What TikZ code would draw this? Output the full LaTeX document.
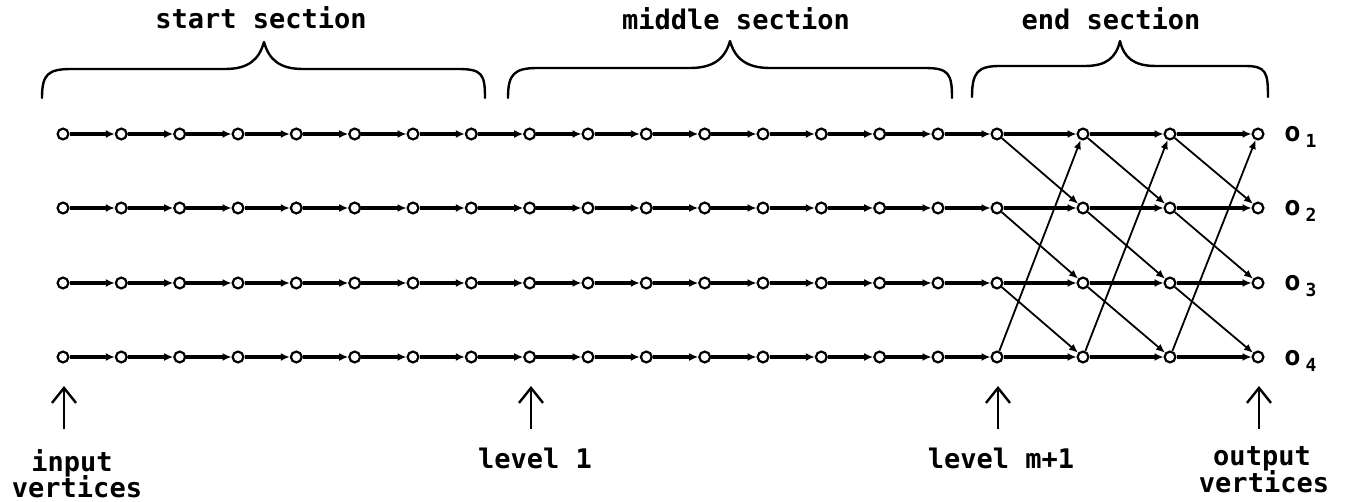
\documentclass[tikz,border=0pt]{standalone}
\usepackage{fontspec}
\setmonofont{DejaVu Sans Mono}
\usetikzlibrary{arrows.meta}
\begin{document}
\begin{tikzpicture}[x=0.5pt,y=-0.5pt,
  vtx/.style={circle, draw, line width=1.1pt, fill=white, minimum size=5.4pt, inner sep=0pt},
  hedge/.style={line width=1.6pt, -{Latex[length=4.5pt,width=4pt]}},
  dedge/.style={line width=0.9pt, -{Latex[length=4.5pt,width=3.8pt]}},
  lbl/.style={font=\ttfamily\bfseries\fontsize{13.5}{13.5}\selectfont, inner sep=0pt},
  sublbl/.style={lbl, anchor=base west},
  upar/.style={line width=1.2pt, -{Straight Barb[length=7.5pt,width=12pt]}},
  brc/.style={line width=1.2pt, line cap=round, line join=round}]
\useasboundingbox (0,0) rectangle (1350,502);

% vertices: 16 chain columns, then 4 columns of the end section
\foreach \c/\x in {1/63, 2/121.3, 3/179.7, 4/238, 5/296.3, 6/354.7, 7/413, 8/471.3,
                   9/529.7, 10/588, 11/646.3, 12/704.7, 13/763, 14/821.3, 15/879.7, 16/938,
                   17/997, 18/1083, 19/1170, 20/1258}
  \foreach \r/\y in {1/134, 2/208, 3/283, 4/357}
    \node[vtx] (v\r-\c) at (\x,\y) {};

% horizontal edges along every row
\foreach \r in {1,2,3,4} {
  \foreach \c/\nc in {1/2, 2/3, 3/4, 4/5, 5/6, 6/7, 7/8, 8/9, 9/10, 10/11,
                      11/12, 12/13, 13/14, 14/15, 15/16, 16/17, 17/18, 18/19, 19/20} {
    \draw[hedge] (v\r-\c) -- (v\r-\nc);
  }
}

% end section: shift each row down by one, last row wraps to the top
\foreach \c/\nc in {17/18, 18/19, 19/20} {
  \foreach \r/\nr in {1/2, 2/3, 3/4, 4/1} {
    \draw[dedge] (v\r-\c) -- (v\nr-\nc);
  }
}

% output labels
\foreach \r/\y in {1/142, 2/216, 3/291, 4/365}
  \node[sublbl] (out\r) at (1284,\y) {o\hspace{2.5pt}\raisebox{-3pt}{\fontsize{9}{9}\selectfont\r}};

% section braces
\draw[brc] (42,98) .. controls (42,74) and (48,69) .. (72,69) -- (225,69)
  .. controls (248,69) and (259,60) .. (264,42)
  .. controls (269,60) and (280,69) .. (303,69) -- (458,69)
  .. controls (482,69) and (485,74) .. (485,98);
\draw[brc] (508,98) .. controls (508,74) and (514,68) .. (538,68) -- (690,68)
  .. controls (713,68) and (725,59) .. (730,41)
  .. controls (735,59) and (747,68) .. (770,68) -- (925,68)
  .. controls (949,68) and (952,74) .. (952,98);
\draw[brc] (972,97) .. controls (972,72) and (978,66) .. (1000,66) -- (1085,66)
  .. controls (1106,66) and (1116,58) .. (1120,41)
  .. controls (1124,58) and (1134,66) .. (1156,66) -- (1245,66)
  .. controls (1266,66) and (1268,72) .. (1268,97);

\node[lbl, anchor=base] (tstart) at (261,29) {start section};
\node[lbl, anchor=base] (tmid) at (736,30) {middle section};
\node[lbl, anchor=base] (tend) at (1111,30) {end section};

% level markers
\coordinate (a1s) at (64,429);   \coordinate (a1e) at (64,386);
\coordinate (a2s) at (531,429);  \coordinate (a2e) at (531,386);
\coordinate (a3s) at (998,429);  \coordinate (a3e) at (998,386);
\coordinate (a4s) at (1259,429); \coordinate (a4e) at (1259,386);
\draw[upar] (a1s) -- (a1e);
\draw[upar] (a2s) -- (a2e);
\draw[upar] (a3s) -- (a3e);
\draw[upar] (a4s) -- (a4e);

\node[lbl, anchor=base] (in1) at (72,471) {input};
\node[lbl, anchor=base] (in2) at (77,497) {vertices};
\node[lbl, anchor=base] (lv1) at (535,468) {level 1};
\node[lbl, anchor=base] (lvm) at (1001,468) {level m+1};
\node[lbl, anchor=base] (ou1) at (1262,466) {output};
\node[lbl, anchor=base] (ou2) at (1264,492) {vertices};
\end{tikzpicture}
\end{document}
